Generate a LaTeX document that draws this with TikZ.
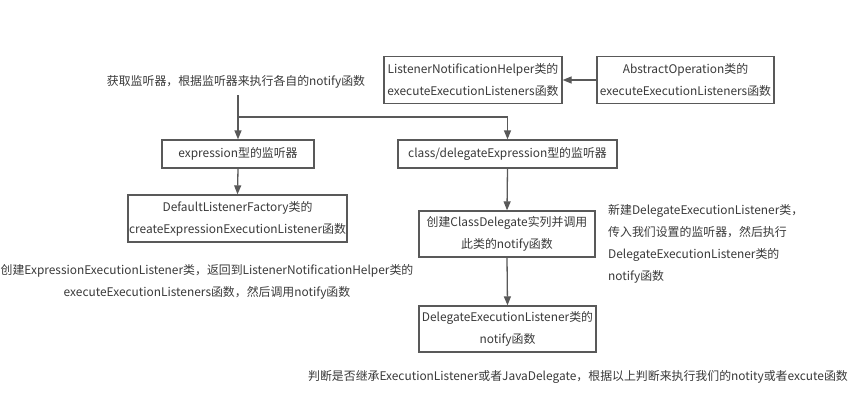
\documentclass[tikz,border=0pt]{standalone}
\usepackage{fontspec}
\setmainfont{Noto Sans CJK SC}
\usetikzlibrary{arrows.meta}
\definecolor{ln}{HTML}{595959}
\definecolor{tx}{HTML}{3A3A3A}
\tikzset{
  box/.style={draw=ln, line width=1.3pt, fill=white, align=center, inner sep=0pt, text=tx},
  lbl/.style={align=center, inner sep=0pt, text=tx},
  conn/.style={draw=ln, line width=1.3pt, -{Triangle[length=9pt,width=7pt]}},
  plain/.style={draw=ln, line width=1.3pt}
}
\begin{document}
\begin{tikzpicture}[x=1pt,y=-1pt,font=\fontsize{11.9}{22}\selectfont]
\useasboundingbox (0,0) rectangle (857,416);
\fill[white] (0,0) rectangle (857,416);
\node[box, minimum width=178pt, minimum height=47pt] (lnh) at (473,80) {ListenerNotificationHelper类的\\executeExecutionListeners函数};
\node[box, minimum width=177pt, minimum height=47pt] (ao) at (685.5,80) {AbstractOperation类的\\executeExecutionListeners函数};
\node[lbl] (t1) at (236,82) {获取监听器，根据监听器来执行各自的notify函数};
\node[box, minimum width=152pt, minimum height=28pt] (expr) at (238,154) {expression型的监听器};
\node[box, minimum width=219pt, minimum height=28pt] (cls) at (507.5,154) {class/delegateExpression型的监听器};
\node[box, minimum width=219pt, minimum height=47pt] (dlf) at (237.5,218.5) {DefaultListenerFactory类的\\createExpressionExecutionListener函数};
\node[lbl] (t2) at (207,282) {创建ExpressionExecutionListener类，返回到ListenerNotificationHelper类的\\executeExecutionListeners函数，然后调用notify函数};
\node[box, minimum width=176pt, minimum height=46pt] (cd) at (507,234) {创建ClassDelegate实列并调用\\此类的notify函数};
\node[lbl, align=left, anchor=west] (t3) at (608,244) {新建DelegateExecutionListener类，\\传入我们设置的监听器，然后执行\\DelegateExecutionListener类的\\notify函数};
\node[box, minimum width=177pt, minimum height=46pt] (del) at (507.5,329) {DelegateExecutionListener类的\\notify函数};
\node[lbl] (t4) at (578,377) {判断是否继承ExecutionListener或者JavaDelegate，根据以上判断来执行我们的notity或者excute函数};
\coordinate (j0) at (238,95);
\coordinate (j1) at (238,117);
\draw[conn] (ao.west) -- (lnh.east);
\draw[conn] (j0) -- (expr.north);
\draw[conn] (j1) -| (cls.north);
\draw[conn] (expr.south) -- (dlf.north);
\draw[conn] (cls.south) -- (cd.north);
\draw[conn] (cd.south) -- (del.north);
\end{tikzpicture}
\end{document}
